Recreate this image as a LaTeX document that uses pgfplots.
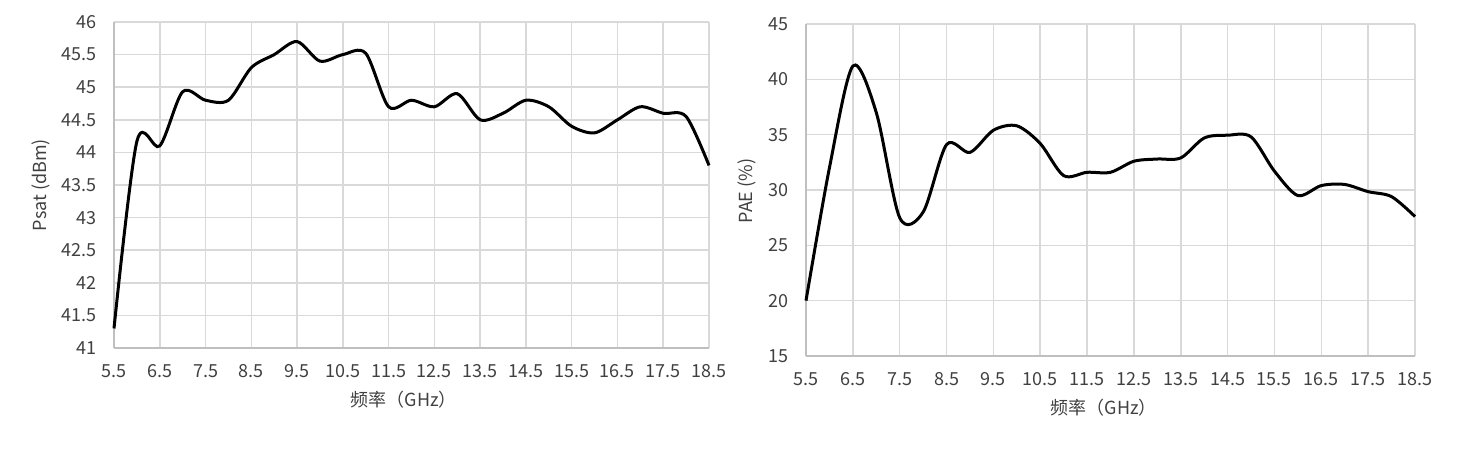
\documentclass[border=0pt]{standalone}
\usepackage{pgfplots}
\pgfplotsset{compat=1.18}
\usepackage{fontspec}
\setmainfont{Noto Sans CJK SC}
\definecolor{gridc}{HTML}{D9D9D9}
\definecolor{axc}{HTML}{BFBFBF}
\definecolor{txt}{HTML}{404040}
\pgfplotsset{mystyle/.style={
  scale only axis,
  axis x line=bottom, axis y line=left,
  axis line style={-, draw=axc, line width=1.6pt},
  major tick length=0pt, tick style={draw=none},
  grid=major, major grid style={draw=gridc, line width=1.5pt},
  tick label style={font=\fontsize{18}{20}\selectfont, text=txt, inner sep=0pt},
  yticklabel style={anchor=east, xshift=-17pt},
  xticklabel style={anchor=north, yshift=-16pt},
  /pgf/number format/assume math mode=true,
  xtick={5.5,6.5,7.5,8.5,9.5,10.5,11.5,12.5,13.5,14.5,15.5,16.5,17.5,18.5},
  xmin=5.5, xmax=18.5,
  clip=false,
  label style={font=\fontsize{18}{20}\selectfont, text=txt},
}}
\begin{document}
\begin{tikzpicture}
\path[use as bounding box] (0,0) rectangle (1457pt,450pt);
\begin{axis}[mystyle,
  at={(114pt,102pt)}, anchor=south west,
  width=595pt, height=326pt,
  ymin=41, ymax=46, ytick={41,41.5,...,46},
  xlabel={频率（GHz）},
  xlabel style={at={([yshift=-52pt]axis description cs:0.487,0)}, anchor=center},
  ylabel={Psat (dBm)},
  ylabel style={at={([xshift=-73pt]axis description cs:0,0.5)}, anchor=center, rotate=0},
]
\addplot[black, line width=3pt, smooth, tension=0.5] coordinates {
(5.5,41.3) (6.0,44.17) (6.5,44.1) (7.0,44.93) (7.5,44.8) (8.0,44.8)
(8.5,45.3) (9.0,45.5) (9.5,45.7) (10.0,45.4) (10.5,45.5) (11.0,45.52)
(11.5,44.7) (12.0,44.8) (12.5,44.7) (13.0,44.9) (13.5,44.5) (14.0,44.6)
(14.5,44.8) (15.0,44.7) (15.5,44.4) (16.0,44.3) (16.5,44.5) (17.0,44.7)
(17.5,44.6) (18.0,44.55) (18.5,43.8)
};
\end{axis}
\begin{axis}[mystyle,
  at={(806pt,94pt)}, anchor=south west,
  width=609pt, height=332pt,
  ymin=15, ymax=45, ytick={15,20,...,45},
  xlabel={频率（GHz）},
  xlabel style={at={([yshift=-52pt]axis description cs:0.489,0)}, anchor=center},
  ylabel={PAE (\%)},
  ylabel style={at={([xshift=-59pt]axis description cs:0,0.497)}, anchor=center, rotate=0},
]
\addplot[black, line width=3pt, smooth, tension=0.5] coordinates {
(5.5,20.0) (6.0,32.0) (6.5,41.2) (7.0,37.0) (7.5,27.5) (8.0,28.0)
(8.5,34.1) (9.0,33.4) (9.5,35.4) (10.0,35.8) (10.5,34.2) (11.0,31.3)
(11.5,31.6) (12.0,31.6) (12.5,32.6) (13.0,32.8) (13.5,32.9) (14.0,34.7)
(14.5,34.95) (15.0,34.8) (15.5,31.7) (16.0,29.5) (16.5,30.4) (17.0,30.5)
(17.5,29.85) (18.0,29.4) (18.5,27.6)
};
\end{axis}
\end{tikzpicture}
\end{document}
